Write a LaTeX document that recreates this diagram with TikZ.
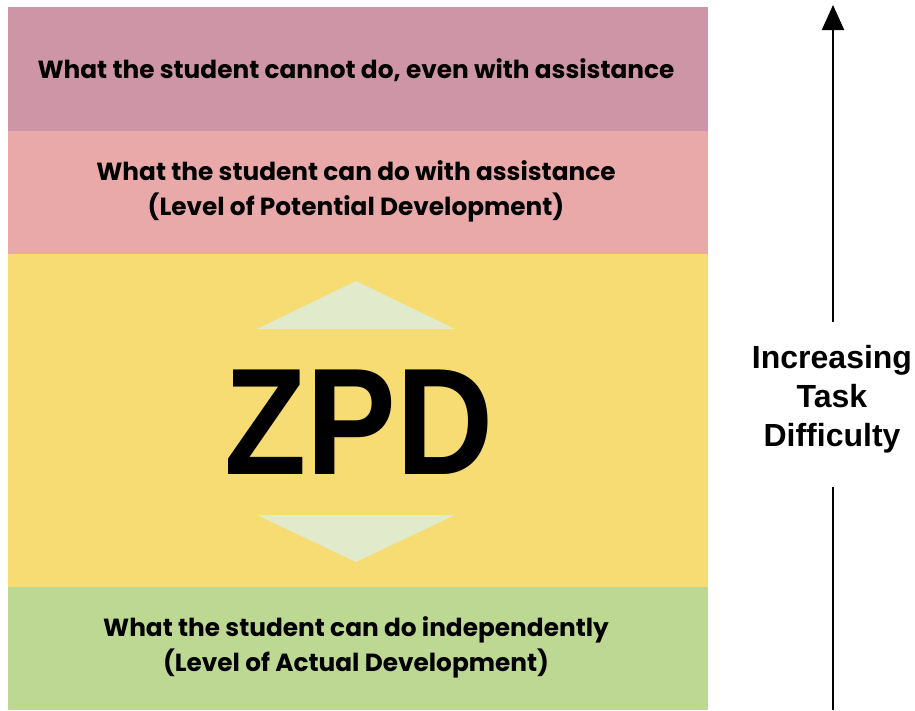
\documentclass[tikz,border=0pt]{standalone}
\usepackage{fontspec}
\setmainfont{Poppins}
\newfontfamily\arialb{Liberation Sans}[UprightFont=* Bold]
\usetikzlibrary{arrows.meta}
\definecolor{cMauve}{HTML}{CD95A6}
\definecolor{cPink}{HTML}{EAA9A9}
\definecolor{cYellow}{HTML}{F6DC72}
\definecolor{cGreen}{HTML}{BDD893}
\definecolor{cTri}{HTML}{E2EACC}
\tikzset{
  band/.style={draw=none, inner sep=0pt, outer sep=0pt, anchor=north west},
  bandtext/.style={font=\fontsize{24.8}{35}\selectfont\bfseries, align=center, text=black, inner sep=0pt},
  tri/.style={fill=cTri, draw=none},
  axis/.style={line width=2pt, draw=black},
  difftext/.style={font=\arialb\fontsize{32}{39}\selectfont, align=center, inner sep=0pt},
}
\begin{document}
\begin{tikzpicture}[x=1pt,y=-1pt]
\useasboundingbox (0,0) rectangle (915,710);
% bands
\node[band, fill=cMauve, minimum width=700pt, minimum height=124pt] (b1) at (8,7) {};
\node[band, fill=cPink, minimum width=700pt, minimum height=123pt] (b2) at (8,131) {};
\node[band, fill=cYellow, minimum width=700pt, minimum height=333pt] (b3) at (8,254) {};
\node[band, fill=cGreen, minimum width=700pt, minimum height=123pt] (b4) at (8,587) {};
% band texts
\node[bandtext] (t1) at (356,70) {What the student cannot do, even with assistance};
\node[bandtext] (t2) at (356,191) {What the student can do with assistance\\(Level of Potential Development)};
\node[bandtext] (t4) at (356,647) {What the student can do independently\\(Level of Actual Development)};
% triangles
\fill[tri] (356,281) -- (455,329) -- (257,329) -- cycle;
\fill[tri] (356,562) -- (455,515) -- (257,515) -- cycle;
% ZPD
\node[inner sep=0pt, font=\arialb\fontsize{152}{152}\selectfont, xscale=0.885] (zpd) at (359,422) {ZPD};
% axis
\node[difftext] (diff) at (832,399) {Increasing\\Task\\Difficulty};
\coordinate (atop) at (833,5);
\coordinate (gtop) at (833,322);
\coordinate (gbot) at (833,487);
\coordinate (abot) at (833,710);
\draw[axis, -{Triangle[width=22pt,length=25pt]}] (gtop) -- (atop);
\draw[axis] (abot) -- (gbot);
\end{tikzpicture}
\end{document}
